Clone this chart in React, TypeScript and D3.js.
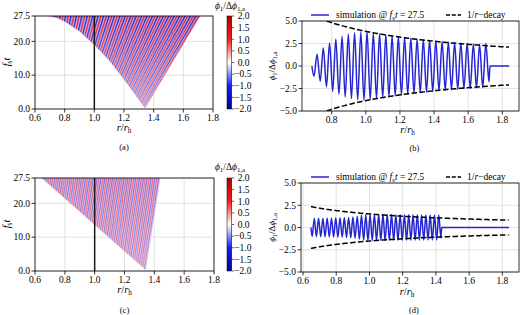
import React from 'react';
import * as d3 from 'd3';

const FONT = "'Liberation Serif','Times New Roman',serif";
const FS = 9.5;
const LFS = 10.5;

// ---------- tick values ----------
const rTicksAC = [0.6, 0.8, 1.0, 1.2, 1.4, 1.6, 1.8];
const ftTicks = [0, 10, 20, 27.5];
const cbTicks = [-2, -1.5, -1, -0.5, 0, 0.5, 1, 1.5, 2];
const phiTicks = [-5, -2.5, 0, 2.5, 5];
const rTicksB = [0.8, 1.0, 1.2, 1.4, 1.6, 1.8];
const rTicksD = [0.6, 0.8, 1.0, 1.2, 1.4, 1.6, 1.8];

// ---------- (a) / (c) wedge outlines in (r/r_h, f_s t) ----------
const wedgeA_r = [0.69, 0.75, 0.8, 0.9, 1.0, 1.1, 1.2, 1.3, 1.343, 1.715];
const wedgeA_t = [27.5, 26.9, 25.9, 23.0, 19.0, 14.4, 8.8, 2.8, 0.3, 27.5];
const wedgeC_r = [0.645, 1.343, 1.44];
const wedgeC_t = [27.5, 0.3, 27.5];
// phase-line drift dr/d(f_s t) of the stripes
const stripeA_g = [0.003, 0.0137];
const stripeC_g = [0.0036, 0.0036];

// ---------- (b) snapshot at f_s t = 27.5 ----------
const simB_start = 0.684;
const simB_first = 0.696;
const simB_last = 1.722;
const simB_amp = [1.15, 1.3, 1.7, 2.0, 2.3, 2.55, 2.8, 3.0, 3.15, 3.3, 3.45, 3.55, 3.62, 3.7, 3.75,
  3.78, 3.8, 3.8, 3.73, 3.68, 3.62, 3.58, 3.52, 3.47, 3.42, 3.37, 3.32, 3.27, 3.22, 3.18,
  3.13, 3.09, 3.05, 3.01, 2.97, 2.93, 2.89, 2.86, 2.82, 2.79, 2.76, 2.73, 2.69, 2.66, 2.63,
  2.61, 2.58, 2.55, 2.52, 2.5, 2.47, 2.45, 2.42, 2.4, 2.38, 2.5, 1.75];
const simB_tail = [1.728, 1.84];
const decayB = 3.85;

// ---------- (d) snapshot at f_s t = 27.5 ----------
const simD_start = 0.648;
const simD_first = 0.655;
const simD_last = 1.43;
const simD_amp = [1.0, 1.02, 1.03, 1.04, 1.05, 1.05, 1.06, 1.07, 1.07, 1.08, 1.08, 1.09, 1.1, 1.1, 1.1,
  1.11, 1.12, 1.13, 1.15, 1.18, 1.22, 1.27, 1.32, 1.37, 1.41, 1.44, 1.46,
  1.47, 1.47, 1.47, 1.47, 1.46, 1.46, 1.46, 1.46, 1.45, 1.45, 1.45, 1.45, 1.44, 1.44, 1.44, 1.44,
  1.43, 1.43, 1.43, 1.43, 1.42, 1.42, 1.42, 1.42, 1.41, 1.41, 1.41, 1.41, 1.4, 1.4, 1.4, 1.4, 1.4, 1.15];
const simD_tail = [1.435, 1.84];
const decayD = 1.52;
const decayEnd = 1.84;

type Ext = { r: number; v: number };

function extrema(first: number, last: number, amps: number[]): Ext[] {
  const n = amps.length;
  return amps.map((a, k) => ({ r: first + ((last - first) * k) / (n - 1), v: (k % 2 === 0 ? -1 : 1) * a }));
}

const fmt = (v: number) => (v < 0 ? '\u2212' : '') + Math.abs(v).toFixed(1);

const PhiLabel = ({ sub = 6.8 }: { sub?: number }) => (
  <>
    <tspan fontStyle="italic">ϕ</tspan>
    <tspan dy={2} fontSize={sub}>1</tspan>
    <tspan dy={-2}>/Δ</tspan>
    <tspan fontStyle="italic">ϕ</tspan>
    <tspan dy={2} fontSize={sub}>1,a</tspan>
  </>
);

const RLabel = () => (
  <>
    <tspan fontStyle="italic">r</tspan>
    <tspan>/</tspan>
    <tspan fontStyle="italic">r</tspan>
    <tspan dy={2} fontSize={7.2}>h</tspan>
  </>
);

const FtLabel = () => (
  <>
    <tspan fontStyle="italic">f</tspan>
    <tspan dy={2} fontSize={7.2}>s</tspan>
    <tspan dy={-2} fontStyle="italic">t</tspan>
  </>
);

function HeatPanel(p: {
  id: string; x0: number; x1: number; y0: number; y1: number;
  wedgeR: number[]; wedgeT: number[]; ext: Ext[]; g: number[];
  base: string; red: string; blue: string; lw: number; fade: number;
  cbTitleY: number; xLabY: number; subY: number; subLab: string; yLabY: number;
}) {
  const xs = d3.scaleLinear().domain([0.6, 1.8]).range([p.x0, p.x1]);
  const ys = d3.scaleLinear().domain([0, 27.5]).range([p.y1, p.y0]);
  const poly = p.wedgeR.map((r, i) => `${xs(r)},${ys(p.wedgeT[i])}`).join(' ');
  const rMin = p.ext[0].r, rMax = p.ext[p.ext.length - 1].r;
  const cbX = 227, cbW = 4.7;
  const cs = d3.scaleLinear().domain([-2, 2]).range([p.y1, p.y0]);
  return (
    <g>
      <defs>
        <clipPath id={`clip-${p.id}`}><polygon points={poly} /></clipPath>
        <linearGradient id={`fade-${p.id}`} x1="0" y1="0" x2="0" y2="1">
          <stop offset="0" stopColor="#fff" stopOpacity={0} />
          <stop offset="1" stopColor="#fff" stopOpacity={p.fade} />
        </linearGradient>
        <linearGradient id={`cb-${p.id}`} x1="0" y1="0" x2="0" y2="1">
          <stop offset="0" stopColor="#b00000" />
          <stop offset="0.25" stopColor="#ff1a1a" />
          <stop offset="0.5" stopColor="#ffffff" />
          <stop offset="0.75" stopColor="#1a1aff" />
          <stop offset="1" stopColor="#00009c" />
        </linearGradient>
      </defs>
      {/* grid */}
      {rTicksAC.map((t) => (
        <line key={'gx' + t} x1={xs(t)} x2={xs(t)} y1={p.y0} y2={p.y1} stroke="#d9d9d9" strokeWidth={0.8} />
      ))}
      {ftTicks.map((t) => (
        <line key={'gy' + t} x1={p.x0} x2={p.x1} y1={ys(t)} y2={ys(t)} stroke="#d9d9d9" strokeWidth={0.8} />
      ))}
      {/* wedge */}
      <g clipPath={`url(#clip-${p.id})`}>
        <rect x={p.x0} y={p.y0} width={p.x1 - p.x0} height={p.y1 - p.y0} fill={p.base} />
        {p.ext.map((e, k) => {
          const g = p.g[0] + ((p.g[1] - p.g[0]) * (e.r - rMin)) / (rMax - rMin);
          const rTop = e.r + 1 * g;
          const rBot = e.r - 27.5 * g;
          const op = Math.min(1, 0.45 + Math.abs(e.v) / 3);
          return (
            <line key={k} x1={xs(rTop)} y1={ys(28.5)} x2={xs(rBot)} y2={ys(0)}
              stroke={e.v > 0 ? p.red : p.blue} strokeWidth={p.lw} strokeOpacity={op} />
          );
        })}
        <rect x={p.x0} y={p.y0} width={p.x1 - p.x0} height={p.y1 - p.y0} fill={`url(#fade-${p.id})`} />
      </g>
      {/* r = r_h */}
      <line x1={xs(1.0)} x2={xs(1.0)} y1={p.y0} y2={p.y1} stroke="#1a1a1a" strokeWidth={1.5} />
      {/* frame */}
      <rect x={p.x0} y={p.y0} width={p.x1 - p.x0} height={p.y1 - p.y0} fill="none" stroke="#000" strokeWidth={0.8} />
      {rTicksAC.map((t) => (
        <g key={'tx' + t}>
          <line x1={xs(t)} x2={xs(t)} y1={p.y1} y2={p.y1 + 3.5} stroke="#000" strokeWidth={0.8} />
          <text x={xs(t)} y={p.y1 + 11.5} textAnchor="middle">{fmt(t)}</text>
        </g>
      ))}
      {ftTicks.map((t) => (
        <g key={'ty' + t}>
          <line x1={p.x0 - 3.5} x2={p.x0} y1={ys(t)} y2={ys(t)} stroke="#000" strokeWidth={0.8} />
          <text x={p.x0 - 5} y={ys(t) + 3.3} textAnchor="end">{fmt(t)}</text>
        </g>
      ))}
      <text x={(p.x0 + p.x1) / 2} y={p.xLabY} textAnchor="middle" fontSize={LFS}><RLabel /></text>
      <text transform={`translate(10,${p.yLabY}) rotate(-90)`} textAnchor="middle" fontSize={LFS}><FtLabel /></text>
      <text x={(p.x0 + p.x1) / 2} y={p.subY} textAnchor="middle" fontSize={8.5}>{p.subLab}</text>
      {/* colorbar */}
      <rect x={cbX} y={p.y0} width={cbW} height={p.y1 - p.y0} fill={`url(#cb-${p.id})`} stroke="#000" strokeWidth={0.5} />
      {cbTicks.map((t) => (
        <g key={'cb' + t}>
          <line x1={cbX + cbW} x2={cbX + cbW + 2.5} y1={cs(t)} y2={cs(t)} stroke="#000" strokeWidth={0.6} />
          <text x={t < 0 ? cbX + cbW + 2.5 : cbX + cbW + 6} y={cs(t) + 3.3}>{fmt(t)}</text>
        </g>
      ))}
      <text x={cbX + 3} y={p.cbTitleY} textAnchor="middle"><PhiLabel /></text>
    </g>
  );
}

function LinePanel(p: {
  id: string; x0: number; x1: number; y0: number; y1: number; dom: [number, number];
  xt: number[]; start: number; ext: Ext[]; tail: number[]; C: number;
  legY: number; xLabY: number; subY: number; subLab: string;
}) {
  const xs = d3.scaleLinear().domain(p.dom).range([p.x0, p.x1]);
  const ys = d3.scaleLinear().domain([-5, 5]).range([p.y1, p.y0]);
  const pts: [number, number][] = [[p.start, 0], ...p.ext.map((e) => [e.r, e.v] as [number, number]), ...p.tail.map((r) => [r, 0] as [number, number])];
  const line = d3.line<[number, number]>().x((d) => xs(d[0])).y((d) => ys(d[1])).curve(d3.curveMonotoneX);
  const rr = d3.range(p.start, decayEnd + 1e-9, 0.005);
  const up = d3.line<number>().x((r) => xs(r)).y((r) => ys(p.C / r))(rr);
  const dn = d3.line<number>().x((r) => xs(r)).y((r) => ys(-p.C / r))(rr);
  const blue = '#2424d2';
  return (
    <g>
      <defs>
        <clipPath id={`clip-${p.id}`}><rect x={p.x0} y={p.y0} width={p.x1 - p.x0} height={p.y1 - p.y0} /></clipPath>
      </defs>
      {p.xt.map((t) => (
        <line key={'gx' + t} x1={xs(t)} x2={xs(t)} y1={p.y0} y2={p.y1} stroke="#d9d9d9" strokeWidth={0.8} />
      ))}
      {phiTicks.map((t) => (
        <line key={'gy' + t} x1={p.x0} x2={p.x1} y1={ys(t)} y2={ys(t)} stroke="#d9d9d9" strokeWidth={0.8} />
      ))}
      <g clipPath={`url(#clip-${p.id})`}>
        <path d={line(pts) || ''} fill="none" stroke={blue} strokeWidth={1.5} strokeLinejoin="round" />
        <path d={up || ''} fill="none" stroke="#000" strokeWidth={1.5} strokeDasharray="5.5,2.4" />
        <path d={dn || ''} fill="none" stroke="#000" strokeWidth={1.5} strokeDasharray="5.5,2.4" />
      </g>
      <rect x={p.x0} y={p.y0} width={p.x1 - p.x0} height={p.y1 - p.y0} fill="none" stroke="#000" strokeWidth={0.8} />
      {p.xt.map((t) => (
        <g key={'tx' + t}>
          <line x1={xs(t)} x2={xs(t)} y1={p.y1} y2={p.y1 + 3.5} stroke="#000" strokeWidth={0.8} />
          <text x={xs(t)} y={p.y1 + 11.5} textAnchor="middle">{fmt(t)}</text>
        </g>
      ))}
      {phiTicks.map((t) => (
        <g key={'ty' + t}>
          <line x1={p.x0 - 3.5} x2={p.x0} y1={ys(t)} y2={ys(t)} stroke="#000" strokeWidth={0.8} />
          <text x={p.x0 - 5} y={ys(t) + 3.3} textAnchor="end">{fmt(t)}</text>
        </g>
      ))}
      <text x={(p.x0 + p.x1) / 2 - 3} y={p.xLabY} textAnchor="middle" fontSize={LFS}><RLabel /></text>
      <text transform={`translate(275,${(p.y0 + p.y1) / 2}) rotate(-90)`} textAnchor="middle" fontSize={9}><PhiLabel sub={6.5} /></text>
      <text x={(p.x0 + p.x1) / 2 + 4} y={p.subY} textAnchor="middle" fontSize={8.5}>{p.subLab}</text>
      {/* legend */}
      <line x1={311} x2={329} y1={p.legY} y2={p.legY} stroke={blue} strokeWidth={1.5} />
      <text x={336} y={p.legY + 3.3}>
        <tspan>simulation @ </tspan>
        <tspan fontStyle="italic">f</tspan>
        <tspan dy={2} fontSize={6.8}>s</tspan>
        <tspan dy={-2} fontStyle="italic">t</tspan>
        <tspan> = 27.5</tspan>
      </text>
      <line x1={446} x2={461} y1={p.legY} y2={p.legY} stroke="#000" strokeWidth={1.5} strokeDasharray="4,1.8" />
      <text x={467} y={p.legY + 3.3}>
        <tspan>1/</tspan>
        <tspan fontStyle="italic">r</tspan>
        <tspan>−decay</tspan>
      </text>
    </g>
  );
}

export default function App() {
  const extB = extrema(simB_first, simB_last, simB_amp);
  const extD = extrema(simD_first, simD_last, simD_amp);
  return (
    <svg width={520} height={315} style={{ position: 'absolute', left: 0, top: 0, background: '#fff' }}
      fontFamily={FONT} fontSize={FS}>
      <rect width={520} height={315} fill="#fff" />
      <HeatPanel id="a" x0={35} x1={213} y0={16} y1={109} wedgeR={wedgeA_r} wedgeT={wedgeA_t}
        ext={extB} g={stripeA_g} base="#c6a0da" red="#e0283e" blue="#2a2ad6" lw={1.35} fade={0.55}
        cbTitleY={8.5} xLabY={131} subY={150} subLab="(a)" yLabY={62} />
      <HeatPanel id="c" x0={35} x1={214} y0={178} y1={271} wedgeR={wedgeC_r} wedgeT={wedgeC_t}
        ext={extD} g={stripeC_g} base="#dcb2d8" red="#ee5a78" blue="#6e6ee2" lw={1.0} fade={0.25}
        cbTitleY={170} xLabY={293} subY={313} subLab="(c)" yLabY={224} />
      <LinePanel id="b" x0={302} x1={519} y0={21} y1={111} dom={[0.626, 1.898]} xt={rTicksB}
        start={simB_start} ext={extB} tail={simB_tail} C={decayB} legY={15} xLabY={133} subY={151} subLab="(b)" />
      <LinePanel id="d" x0={301} x1={519} y0={183} y1={272} dom={[0.588, 1.9]} xt={rTicksD}
        start={simD_start} ext={extD} tail={simD_tail} C={decayD} legY={177} xLabY={294.5} subY={313} subLab="(d)" />
    </svg>
  );
}
